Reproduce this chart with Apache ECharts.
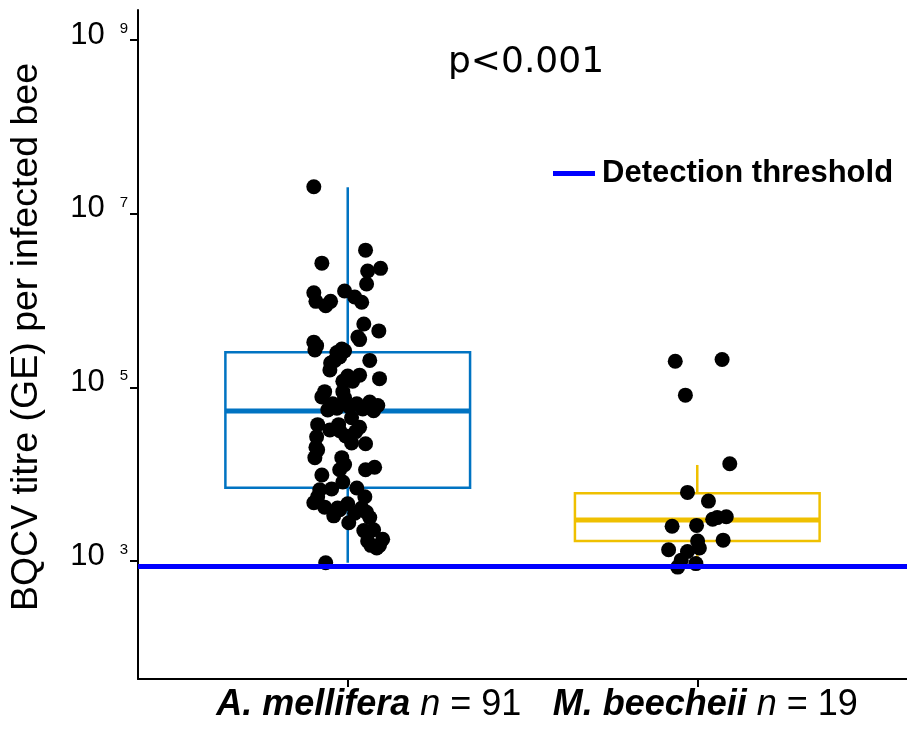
<!DOCTYPE html>
<html><head><meta charset="utf-8">
<script src="https://cdn.jsdelivr.net/npm/echarts@6/dist/echarts.min.js"></script>
<style>html,body{margin:0;padding:0;background:#fff}#chart{width:907px;height:729px}</style>
</head><body><div id="chart"></div>
<script>
// ---- data (titres stored as log10 of genome equivalents) ----
const categories = ['A. mellifera', 'M. beecheii'];
const sampleSizes = [91, 19];
const yTickExponents = [3, 5, 7, 9];
const yTitle = 'BQCV titre (GE) per infected bee';
const pValueText = 'p<0.001';
const thresholdName = 'Detection threshold';
const detectionThresholdLog10 = 2.94;
// [lower whisker, Q1, median, Q3, upper whisker]
const melliferaBoxLog10 = [2.98, 3.844, 4.727, 5.404, 7.304];
const beecheiiBoxLog10 = [2.93, 3.23, 3.472, 3.78, 4.106];
const melliferaLog10 = [
  7.31, 6.58, 6.43, 6.37, 6.34, 6.19, 6.09, 5.99, 5.94, 5.99,
  6.11, 6.04, 5.98, 5.73, 5.65, 5.58, 5.52, 5.43, 5.40, 5.42,
  5.35, 5.28, 5.20, 5.31, 5.14, 5.07, 5.10, 5.07, 4.95, 4.89,
  4.74, 4.76, 4.77, 4.75, 4.79, 4.73, 4.57, 4.57, 4.65, 4.54,
  4.43, 4.50, 4.44, 4.31, 4.36, 4.35, 4.28, 4.19, 4.19, 4.11,
  4.05, 4.08, 3.99, 3.82, 3.83, 3.91, 3.84, 3.74, 3.67, 3.62,
  3.52, 3.59, 3.66, 3.61, 3.44, 3.50, 3.35, 3.23, 3.25, 3.15,
  3.18, 2.98, 5.48, 5.44, 5.55, 5.31, 5.13, 4.81, 4.81, 4.83,
  4.95, 4.88, 4.51, 4.49, 4.05, 3.74, 3.55, 3.61, 3.56, 3.36,
  3.18
];
const melliferaJitter = [
  -0.097, 0.051, -0.074, 0.094, 0.057, 0.054, -0.097, -0.091, -0.063, -0.049,
  -0.009, 0.020, 0.040, 0.046, 0.089, 0.029, -0.097, -0.094, -0.031, -0.009,
  -0.023, -0.049, -0.051, 0.063, 0.034, 0.014, 0.091, -0.014, -0.014, -0.074,
  -0.057, -0.031, 0.006, 0.043, 0.086, 0.074, -0.086, -0.026, 0.011, 0.034,
  -0.089, -0.023, -0.006, -0.091, 0.011, 0.051, -0.086, -0.094, -0.017, -0.009,
  0.051, 0.077, -0.074, -0.080, -0.046, -0.014, 0.026, 0.049, -0.097, -0.066,
  -0.040, -0.023, 0.000, 0.040, 0.003, 0.063, 0.046, 0.057, 0.100, 0.083,
  0.066, -0.063, -0.089, -0.017, 0.034, -0.037, 0.000, 0.026, -0.043, 0.063,
  -0.066, -0.009, -0.051, 0.023, -0.023, -0.086, 0.020, -0.029, 0.054, 0.074,
  0.091
];
const beecheiiLog10 = [5.30, 5.32, 4.91, 4.12, 3.79, 3.69, 3.48, 3.51, 3.40, 3.41,
  3.23, 3.24, 3.13, 3.11, 2.93, 2.97, 3.50, 3.15, 3.01];
const beecheiiJitter = [-0.063, 0.071, -0.034, 0.093, -0.028, 0.032, 0.044, 0.083, -0.072, -0.002,
  0.001, 0.074, -0.082, -0.028, -0.056, -0.004, 0.057, 0.006, -0.046];

// ---- style ----
const boxColors = ['#0073C2', '#EFC000'];
const boxWidthUnits = 0.70;
const labelFont = 'Liberation Sans, Arial, Helvetica, sans-serif';
const NB = '\u00a0';

const boxData = [melliferaBoxLog10, beecheiiBoxLog10].map((b, i) => [i + 1].concat(b));
const pointData = [];
melliferaLog10.forEach((v, i) => pointData.push([1 + melliferaJitter[i], v]));
beecheiiLog10.forEach((v, i) => pointData.push([2 + beecheiiJitter[i], v]));

const chart = echarts.init(document.getElementById('chart'), null, {renderer: 'canvas'});
chart.setOption({
  animation: false,
  backgroundColor: '#ffffff',
  grid: {left: 138, right: 0, top: 10, bottom: 50, containLabel: false, outerBoundsMode: 'none'},
  legend: {
    show: true, data: [thresholdName], selectedMode: false, padding: 0,
    left: 553, top: 158, icon: 'rect', itemWidth: 42, itemHeight: 5,
    textStyle: {fontFamily: labelFont, fontWeight: 'bold', fontSize: 31, color: '#000', padding: [0, 0, 0, 2]}
  },
  xAxis: {
    type: 'value', min: 0.4, max: 2.6,
    splitLine: {show: false},
    axisLine: {show: true, lineStyle: {color: '#000', width: 2}},
    axisTick: {show: true, customValues: [1, 2], length: 8, lineStyle: {color: '#000', width: 2}},
    axisLabel: {
      show: true, customValues: [1, 2], margin: 8,
      formatter: function (v) {
        const i = Math.round(v) - 1;
        const sp = i === 0 ? 'sp1' : 'sp2';
        return '{' + sp + '|' + NB + '}{bi|' + categories[i] + NB + '}{it|n' + NB + '}{r|=' + NB + sampleSizes[i] + '}';
      },
      rich: {
        sp1: {width: 42, fontSize: 36},
        sp2: {width: 16, fontSize: 36},
        bi: {fontFamily: labelFont, fontWeight: 'bold', fontStyle: 'italic', fontSize: 36, color: '#000'},
        it: {fontFamily: labelFont, fontStyle: 'italic', fontSize: 36, color: '#000'},
        r: {fontFamily: labelFont, fontSize: 36, color: '#000'}
      }
    }
  },
  yAxis: {
    type: 'value', min: 1.641, max: 9.3455,
    splitLine: {show: false},
    axisLine: {show: true, lineStyle: {color: '#000', width: 2}},
    axisTick: {show: true, customValues: yTickExponents, length: 8, lineStyle: {color: '#000', width: 2}},
    axisLabel: {
      show: true, customValues: yTickExponents, margin: 10,
      formatter: function (v) { return '{b|10}{s|' + Math.round(v) + '}'; },
      rich: {
        b: {fontFamily: labelFont, fontSize: 31, color: '#000', padding: [0, 0, 10, 0]},
        s: {fontFamily: labelFont, fontSize: 15, color: '#000', verticalAlign: 'top', padding: [2, 0, 0, 15]}
      }
    }
  },
  graphic: [
    {type: 'text', x: 27, y: 337, rotation: Math.PI / 2, silent: true,
      style: {text: yTitle, font: '37.5px ' + labelFont, fill: '#000', align: 'center', verticalAlign: 'middle'}},
    {type: 'text', x: 526, y: 63, silent: true,
      style: {text: pValueText, font: '36px "DejaVu Sans", sans-serif', fill: '#000', align: 'center', verticalAlign: 'middle'}}
  ],
  series: [
    {
      type: 'custom', name: 'box', z: 2, silent: true,
      data: boxData,
      encode: {x: 0, y: [1, 2, 3, 4, 5]},
      renderItem: function (params, api) {
        const x = api.value(0);
        const low = api.coord([x, api.value(1)]);
        const q1 = api.coord([x, api.value(2)]);
        const med = api.coord([x, api.value(3)]);
        const q3 = api.coord([x, api.value(4)]);
        const high = api.coord([x, api.value(5)]);
        const halfW = api.size([boxWidthUnits, 0])[0] / 2;
        const c = boxColors[params.dataIndex];
        return {type: 'group', children: [
          {type: 'line', shape: {x1: high[0], y1: high[1], x2: q3[0], y2: q3[1]}, style: {stroke: c, lineWidth: 2.5}},
          {type: 'line', shape: {x1: low[0], y1: low[1], x2: q1[0], y2: q1[1]}, style: {stroke: c, lineWidth: 2.5}},
          {type: 'rect', shape: {x: q3[0] - halfW, y: q3[1], width: 2 * halfW, height: q1[1] - q3[1]}, style: {fill: '#fff', stroke: c, lineWidth: 2.5}},
          {type: 'line', shape: {x1: med[0] - halfW, y1: med[1], x2: med[0] + halfW, y2: med[1]}, style: {stroke: c, lineWidth: 5}}
        ]};
      }
    },
    {
      type: 'line', name: thresholdName, data: [], z: 3, color: '#0000ff',
      itemStyle: {color: '#0000ff'}, lineStyle: {color: '#0000ff', width: 5},
      markLine: {
        silent: true, symbol: ['none', 'none'], label: {show: false},
        lineStyle: {color: '#0000ff', width: 5, type: 'solid'},
        data: [{yAxis: detectionThresholdLog10}]
      }
    },
    {
      type: 'scatter', name: 'points', z: 4, silent: true,
      symbol: 'circle', symbolSize: 15,
      itemStyle: {color: '#000', opacity: 1},
      data: pointData
    }
  ]
});
</script></body></html>
